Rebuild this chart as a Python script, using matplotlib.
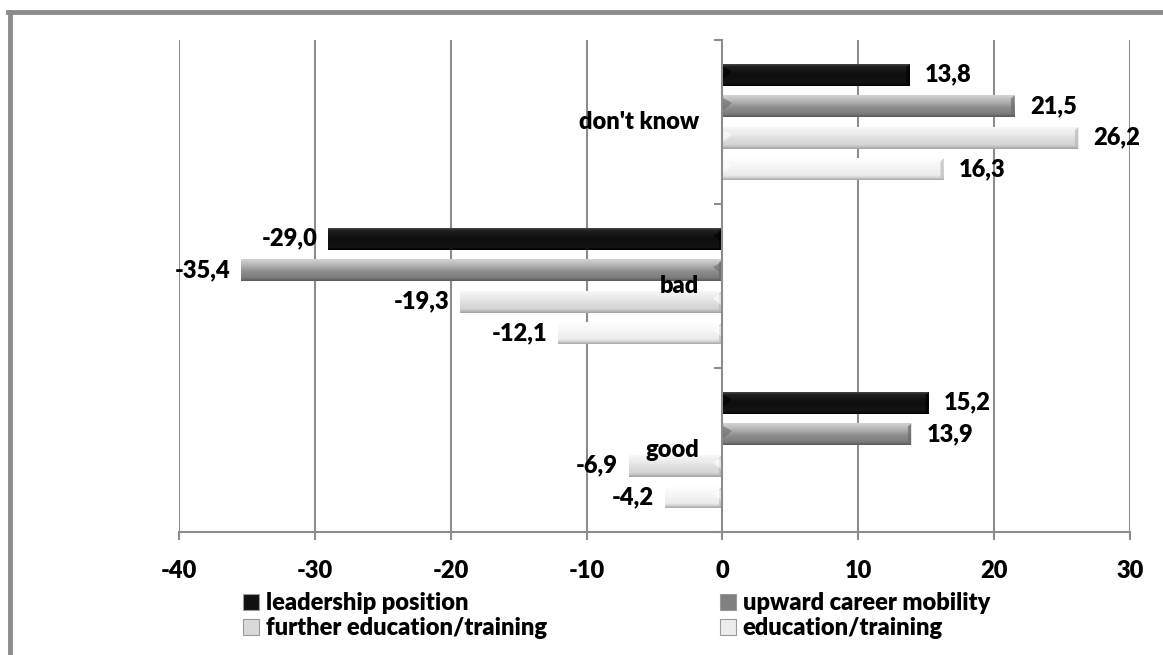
import numpy as np
import matplotlib
matplotlib.use("Agg")
import matplotlib.pyplot as plt
from matplotlib.colors import to_rgb
from matplotlib.patches import Patch, Polygon
from matplotlib.lines import Line2D

# ==== Data ====
categories = ["good", "bad", "don't know"]
series_names = ["leadership position", "upward career mobility",
                "further education/training", "education/training"]
leadership = [15.2, -29.0, 13.8]
upward = [13.9, -35.4, 21.5]
further = [-6.9, -19.3, 26.2]
education = [-4.2, -12.1, 16.3]
xticks = [-40, -30, -20, -10, 0, 10, 20, 30]

# ==== Style ====
plt.rcParams['font.family'] = ['Lato', 'DejaVu Sans']
plt.rcParams['font.weight'] = 'heavy'
FS = 17
WT = 'heavy'
GRID = "#8c8c8c"

# gradient stops (top -> bottom) for each series
gradients = [
    [(0.0, "#454545"), (0.12, "#1e1e1e"), (0.5, "#0e0e0e"), (0.88, "#141414"), (1.0, "#000000")],
    [(0.0, "#d4d4d4"), (0.12, "#c6c6c6"), (0.35, "#ababab"), (0.55, "#8f8f8f"), (0.85, "#7c7c7c"), (1.0, "#5a5a5a")],
    [(0.0, "#f7f7f7"), (0.3, "#ebebeb"), (0.55, "#dedede"), (0.82, "#d4d4d4"), (1.0, "#a3a3a3")],
    [(0.0, "#ffffff"), (0.4, "#f5f5f5"), (0.8, "#ebebeb"), (0.88, "#d5d5d5"), (1.0, "#a8a8a8")],
]
cap_colors = ["#000000", "#6a6a6a", "#b8b8b8", "#bdbdbd"]
legend_colors = ["#111111", "#808080", "#d9d9d9", "#ececec"]


def gradient_image(stops, n=64):
    pos = np.array([s[0] for s in stops])
    cols = np.array([to_rgb(s[1]) for s in stops])
    t = np.linspace(0, 1, n)
    img = np.stack([np.interp(t, pos, cols[:, k]) for k in range(3)], axis=-1)
    return img[:, None, :]


fig = plt.figure(figsize=(11.63, 6.55), dpi=100)
ax = fig.add_axes([179 / 1163, 1 - 532 / 655, (1130 - 179) / 1163, (532 - 40) / 655])

y = np.arange(len(categories))
bar_h = 0.134
step = 0.192
offsets = [1.5 * step, 0.5 * step, -0.5 * step, -1.5 * step]
all_series = [leadership, upward, further, education]

for si, vals in enumerate(all_series):
    img = gradient_image(gradients[si])
    for ci, v in enumerate(vals):
        yc = y[ci] + offsets[si]
        y0, y1 = yc - bar_h / 2, yc + bar_h / 2
        x0, x1 = min(0, v), max(0, v)
        ax.imshow(img, extent=[x0, x1, y0, y1], aspect='auto',
                  interpolation='bilinear', zorder=2)
        # bevelled ends
        cap = 0.25
        ax.add_patch(Polygon([[x1 - cap, y0 + 0.02], [x1, y0], [x1, y1], [x1 - cap, y1 - 0.02]],
                             closed=True, facecolor=cap_colors[si], edgecolor='none',
                             alpha=0.7, zorder=3))
        tri = 0.7 * np.sign(v) if v != 0 else 0.7
        ax.add_patch(Polygon([[0, y1 - 0.015], [tri, yc + 0.02], [0, y0 + 0.04]],
                             closed=True, facecolor=cap_colors[si] if si < 2 else "#ffffff",
                             edgecolor='none', alpha=0.6, zorder=3))
        label = f"{v:.1f}".replace('.', ',')
        if v >= 0:
            ax.annotate(label, (v, yc), xytext=(11, 0), textcoords='offset points',
                        ha='left', va='center', fontsize=FS, fontweight=WT, zorder=5)
        else:
            ax.annotate(label, (v, yc), xytext=(-8, 0), textcoords='offset points',
                        ha='right', va='center', fontsize=FS, fontweight=WT, zorder=5)

# category names sit next to the zero line
for ci, name in enumerate(categories):
    ax.annotate(name, (0, y[ci]), xytext=(-17, 0), textcoords='offset points',
                ha='right', va='center', fontsize=FS, fontweight=WT, zorder=6)

ax.set_xlim(-40, 30)
ax.set_ylim(-0.5, 2.5)
ax.set_xticks(xticks)
ax.set_xticklabels([str(t) for t in xticks], fontsize=FS, fontweight=WT)
ax.set_yticks([-0.5, 0.5, 1.5, 2.5])
ax.set_yticklabels([])
ax.tick_params(axis='x', direction='out', length=6, width=1.5, color=GRID, pad=14)
ax.tick_params(axis='y', direction='out', length=6, width=1.5, color=GRID)

for xv in xticks:
    if xv != 0:
        ax.axvline(xv, color=GRID, lw=1.5, zorder=0)

for s in ['top', 'right']:
    ax.spines[s].set_visible(False)
ax.spines['left'].set_position(('data', 0))
ax.spines['left'].set_color(GRID)
ax.spines['left'].set_linewidth(1.5)
ax.spines['left'].set_zorder(4)
ax.spines['bottom'].set_color(GRID)
ax.spines['bottom'].set_linewidth(1.5)

# ==== Legend ====
handles = [Patch(facecolor=legend_colors[i], edgecolor="#9a9a9a", linewidth=0.8)
           for i in range(4)]
order = [0, 2, 1, 3]
fig.legend([handles[i] for i in order], [series_names[i] for i in order],
           ncol=2, loc='upper left', bbox_to_anchor=(222 / 1163, 1 - 571 / 655),
           frameon=False, prop={'weight': WT, 'size': FS},
           handlelength=0.65, handleheight=0.65, handletextpad=0.3,
           columnspacing=7.35, labelspacing=0.12)

# outer frame
fig.add_artist(Line2D([9.5 / 1163, 9.5 / 1163], [0, 1 - 11.5 / 655], color=GRID, lw=3.5,
                      transform=fig.transFigure))
fig.add_artist(Line2D([8 / 1163, 1], [1 - 11.5 / 655, 1 - 11.5 / 655], color=GRID, lw=3.5,
                      transform=fig.transFigure))

fig.savefig("out.png", dpi=100, facecolor='white')
